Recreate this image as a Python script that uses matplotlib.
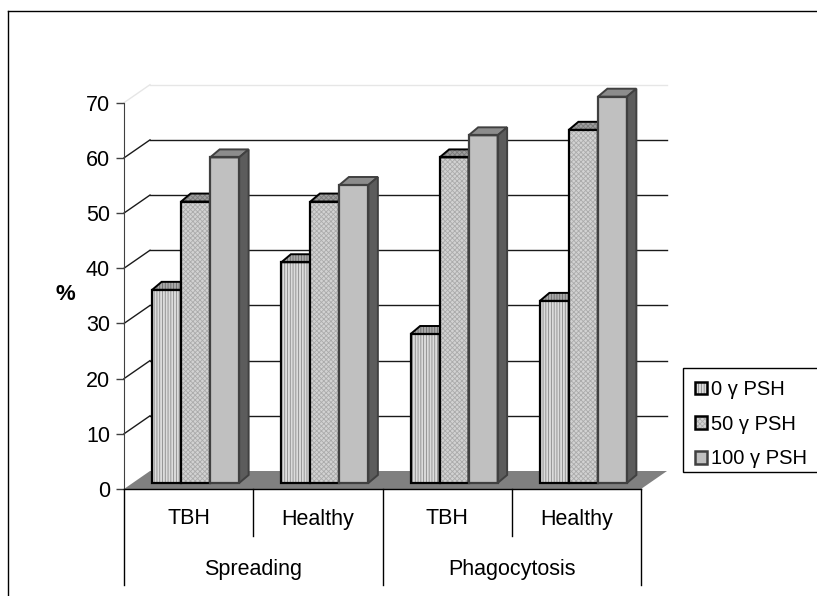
import numpy as np
import matplotlib.pyplot as plt
from matplotlib.patches import Patch, Rectangle
from matplotlib.lines import Line2D

groups = ['Spreading', 'Phagocytosis']
subgroups = ['TBH', 'Healthy', 'TBH', 'Healthy']
series = ['0 γ PSH', '50 γ PSH', '100 γ PSH']
psh_0 = [35, 40, 27, 33]
psh_50 = [51, 51, 59, 64]
psh_100 = [59, 54, 63, 70]
yticks = [0, 10, 20, 30, 40, 50, 60, 70]

plt.rcParams['font.family'] = ['Liberation Sans', 'DejaVu Sans']
plt.rcParams['hatch.linewidth'] = 0.6

W, H = 817, 596
fig = plt.figure(figsize=(W / 100, H / 100), dpi=100)

# front plane of the 3-D frame, in pixels
left, right, top, bottom = 124, 641, 102.7, 489
ax = fig.add_axes([left / W, 1 - bottom / H, (right - left) / W, (bottom - top) / H])
ax.set_xlim(0, 4)
ax.set_ylim(0, 70)
sx = 4 / (right - left)      # data units per pixel
sy = 70 / (bottom - top)

wall_dx, wall_dy = 26 * sx, 18 * sy     # depth of the floor / back wall
bar_dx, bar_dy = 7 * sx, 6 * sy         # bars stand a little back from the front edge
top_dx, top_dy = 9.5 * sx, 8 * sy       # depth of one bar
bw = 29 * sx

# floor
ax.fill([0, 4, 4 + wall_dx, wall_dx], [0, 0, wall_dy, wall_dy],
        color='#808080', lw=0, zorder=1, clip_on=False)

# gridlines on back wall and side wall
for v in yticks[1:]:
    c = '#e6e6e6' if v == yticks[-1] else '#1a1a1a'
    ax.plot([wall_dx, 4 + wall_dx], [v + wall_dy] * 2, color=c, lw=1, zorder=0.5, clip_on=False)
    ax.plot([0, wall_dx], [v, v + wall_dy], color=c, lw=1, zorder=0.5, clip_on=False)

styles = [
    dict(face='#dcdcdc', hatch='||||||', hc='#8a8a8a', topf='#a8a8a8', tophc='#6a6a6a', edge='black'),
    dict(face='#d2d2d2', hatch='xxxxxxx', hc='#ababab', topf='#9e9e9e', tophc='#7a7a7a', edge='black'),
    dict(face='#c0c0c0', hatch=None, hc='#c0c0c0', topf='#8c8c8c', tophc='#8c8c8c', edge='#404040'),
]
side_color = '#5c5c5c'
cats = np.arange(len(subgroups))

for j, (vals, st) in enumerate(zip([psh_0, psh_50, psh_100], styles)):
    z = 2 + j
    xs = cats + 0.5 + bar_dx - 1.5 * bw + j * bw
    ax.bar(xs, vals, width=bw, bottom=bar_dy, align='edge', color=st['face'],
           edgecolor=st['hc'], hatch=st['hatch'], linewidth=0, zorder=z, clip_on=False)
    ax.bar(xs, vals, width=bw, bottom=bar_dy, align='edge', fill=False,
           edgecolor=st['edge'], linewidth=1.6, zorder=z + 0.3, clip_on=False)
    for x, v in zip(xs, vals):
        y1 = bar_dy + v
        tx = [x, x + bw, x + bw + top_dx, x + top_dx]
        ty = [y1, y1, y1 + top_dy, y1 + top_dy]
        ax.fill(tx, ty, facecolor=st['topf'], edgecolor=st['tophc'], hatch=st['hatch'],
                lw=0, zorder=z + 0.1, clip_on=False)
        ax.fill(tx, ty, fill=False, edgecolor=st['edge'], lw=1.4, zorder=z + 0.1, clip_on=False)
        ax.fill([x + bw, x + bw + top_dx, x + bw + top_dx, x + bw],
                [bar_dy, bar_dy + top_dy, y1 + top_dy, y1],
                facecolor=side_color, edgecolor=st['edge'], lw=1.4, zorder=z + 0.2, clip_on=False)

# value axis
for s in ['top', 'right', 'bottom']:
    ax.spines[s].set_visible(False)
ax.spines['left'].set_color('#404040')
ax.set_xticks([])
ax.set_yticks(yticks)
ax.tick_params(axis='y', direction='out', length=6, width=1, color='#404040',
               pad=4, labelsize=15.5)
ax.patch.set_visible(False)

# category axis with two label levels
ax.plot([0, 4], [0, 0], color='black', lw=1, zorder=6, clip_on=False)
inner_y = -(535.7 - bottom) * sy
outer_y = -(585 - bottom) * sy
for x in [0, 2, 4]:
    ax.plot([x, x], [0, outer_y], color='black', lw=1, clip_on=False)
for x in [1, 3]:
    ax.plot([x, x], [0, inner_y], color='black', lw=1, clip_on=False)
for i, name in enumerate(subgroups):
    ax.text(i + 0.5, -(519 - bottom) * sy, name, ha='center', va='center', fontsize=15.5)
for g, name in enumerate(groups):
    ax.text(2 * g + 1, -(569 - bottom) * sy, name, ha='center', va='center', fontsize=15.5)

fig.text(65.7 / W, 1 - 295 / H, '%', fontsize=16, fontweight='bold', ha='center', va='center')

handles = []
for st in styles:
    handles.append((Patch(facecolor=st['face'], edgecolor=st['hc'], hatch=st['hatch'], lw=0),
                    Patch(fill=False, edgecolor=st['edge'], lw=1.8)))
leg = fig.legend(handles, series, loc='upper left', bbox_to_anchor=(683 / W, 1 - 368 / H),
                 fontsize=14.5, frameon=False,
                 handlelength=0.6, handleheight=0.6, handletextpad=0.2,
                 labelspacing=0.78, borderpad=0.6, borderaxespad=0)
# legend box runs past the right edge of the chart area
fig.add_artist(Rectangle((683 / W, 1 - 472 / H), 160 / W, 104 / H, transform=fig.transFigure,
                         facecolor='white', edgecolor='black', lw=1, zorder=-1))

# chart area border
fig.add_artist(Line2D([8 / W, 1], [1 - 11 / H] * 2, color='black', lw=1))
fig.add_artist(Line2D([8 / W, 8 / W], [0, 1 - 11 / H], color='black', lw=1))

fig.savefig('out.png', dpi=100)
